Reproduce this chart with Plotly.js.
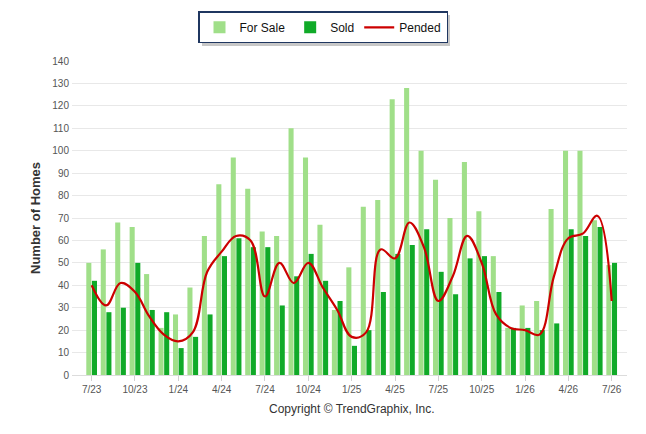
<!DOCTYPE html>
<html>
<head>
<meta charset="utf-8">
<script src="https://cdn.plot.ly/plotly-3.0.1.min.js"></script>
<style>
  html, body { margin:0; padding:0; background:#fff; }
  #chart { width:646px; height:434px; }
</style>
</head>
<body>
<div id="chart"></div>
<script>
// months 7/23 .. 7/26
const months = [
    "7/23","8/23","9/23","10/23","11/23","12/23",
    "1/24","2/24","3/24","4/24","5/24","6/24","7/24","8/24","9/24","10/24","11/24","12/24",
    "1/25","2/25","3/25","4/25","5/25","6/25","7/25","8/25","9/25","10/25","11/25","12/25",
    "1/26","2/26","3/26","4/26","5/26","6/26","7/26"
];
const tick_labels = ["7/23","10/23","1/24","4/24","7/24","10/24","1/25","4/25","7/25","10/25","1/26","4/26","7/26"];

const for_sale = [50,56,68,66,45,21, 27,39,62,85,97,83,64,62,110,97,67,29,
                  48,75,78,123,128,100,87,70,95,73,53,21, 31,33,74,100,100,69,49];
const sold     = [42,28,30,50,29,28, 12,17,27,53,61,57,57,31,44,54,42,33,
                  13,20,37,54,58,65,46,36,52,53,37,21, 21,20,23,65,62,66,50];
const pended   = [40,31,41,37,26,18, 15,19,46,55,62,60,35,50,41,50,39,29,
                  17,19,56,52,68,57,33,44,62,50,27,21, 20,18,44,61,63,71,33];

const y_ticks = [0,10,20,30,40,50,60,70,80,90,100,110,120,130,140];

///////////////////////////////////////////////////////////////////////////////
function graph_create(container)
{
    let traces = [];

    traces.push({
        type:'bar', name:'For Sale', x:months, y:for_sale,
        marker:{color:'#a0df89'},
        hoverinfo:'x+y',
    });
    traces.push({
        type:'bar', name:'Sold', x:months, y:sold,
        marker:{color:'#10aa28'},
        hoverinfo:'x+y',
    });
    traces.push({
        type:'scatter', mode:'lines', name:'Pended', x:months, y:pended,
        line:{color:'#cc0000', width:2.2, shape:'spline', smoothing:1.1},
        hoverinfo:'x+y',
    });

    // plot area: x 72..627, y 61..375 (pixels)
    let layout = {
        width:646, height:434,
        margin:{l:72, r:19, t:61, b:59},
        paper_bgcolor:'#ffffff',
        plot_bgcolor:'#ffffff',
        font:{family:'Arial, "Liberation Sans", sans-serif', color:'#555', size:10},
        barmode:'group',
        bargap:0.22,
        bargroupgap:0.1,
        showlegend:true,
        legend:{
            orientation:'h',
            xref:'container', yref:'container',
            x:0.5, xanchor:'center',
            y:0.974, yanchor:'top',
            bgcolor:'#ffffff',
            bordercolor:'#1f3660', borderwidth:1.5,
            font:{size:12, color:'#111'},
            itemwidth:30,
            traceorder:'normal',
        },
        xaxis:{
            type:'category',
            range:[-1.36, 37.06],
            tickmode:'array',
            tickvals:tick_labels,
            ticktext:tick_labels,
            ticks:'outside', ticklen:5, tickcolor:'#d0d0d0', tickwidth:1,
            showgrid:false,
            showline:true, linecolor:'#dcdcdc', linewidth:1,
            tickfont:{size:10, color:'#555'},
            fixedrange:true,
        },
        yaxis:{
            range:[0,140],
            tickmode:'array',
            tickvals:y_ticks,
            showgrid:true, gridcolor:'#e8e8e8', gridwidth:1,
            zeroline:false,
            ticks:'', ticklabelstandoff:2,
            tickfont:{size:10, color:'#555'},
            title:{text:'<b>Number of Homes</b>', standoff:8,
                   font:{size:13, color:'#333'}},
            fixedrange:true,
        },
        shapes:[{
            // legend drop shadow
            type:'rect', xref:'paper', yref:'paper', layer:'below',
            x0:(202-72)/555, x1:(450-72)/555,
            y0:(375-46)/314, y1:(375-15)/314,
            line:{width:0}, fillcolor:'rgba(0,0,0,0.22)',
        }],
        annotations:[{
            text:'Copyright © TrendGraphix, Inc.',
            xref:'paper', yref:'paper',
            x:(352-72)/555, y:-(409-375)/314,
            xanchor:'center', yanchor:'middle',
            showarrow:false,
            font:{size:12, color:'#333'},
        }],
    };

    let plot_container = document.getElementById(container);
    Plotly.newPlot(plot_container, traces, layout, {displayModeBar:false, staticPlot:true});
    return plot_container;
}

graph_create('chart');
</script>
</body>
</html>
